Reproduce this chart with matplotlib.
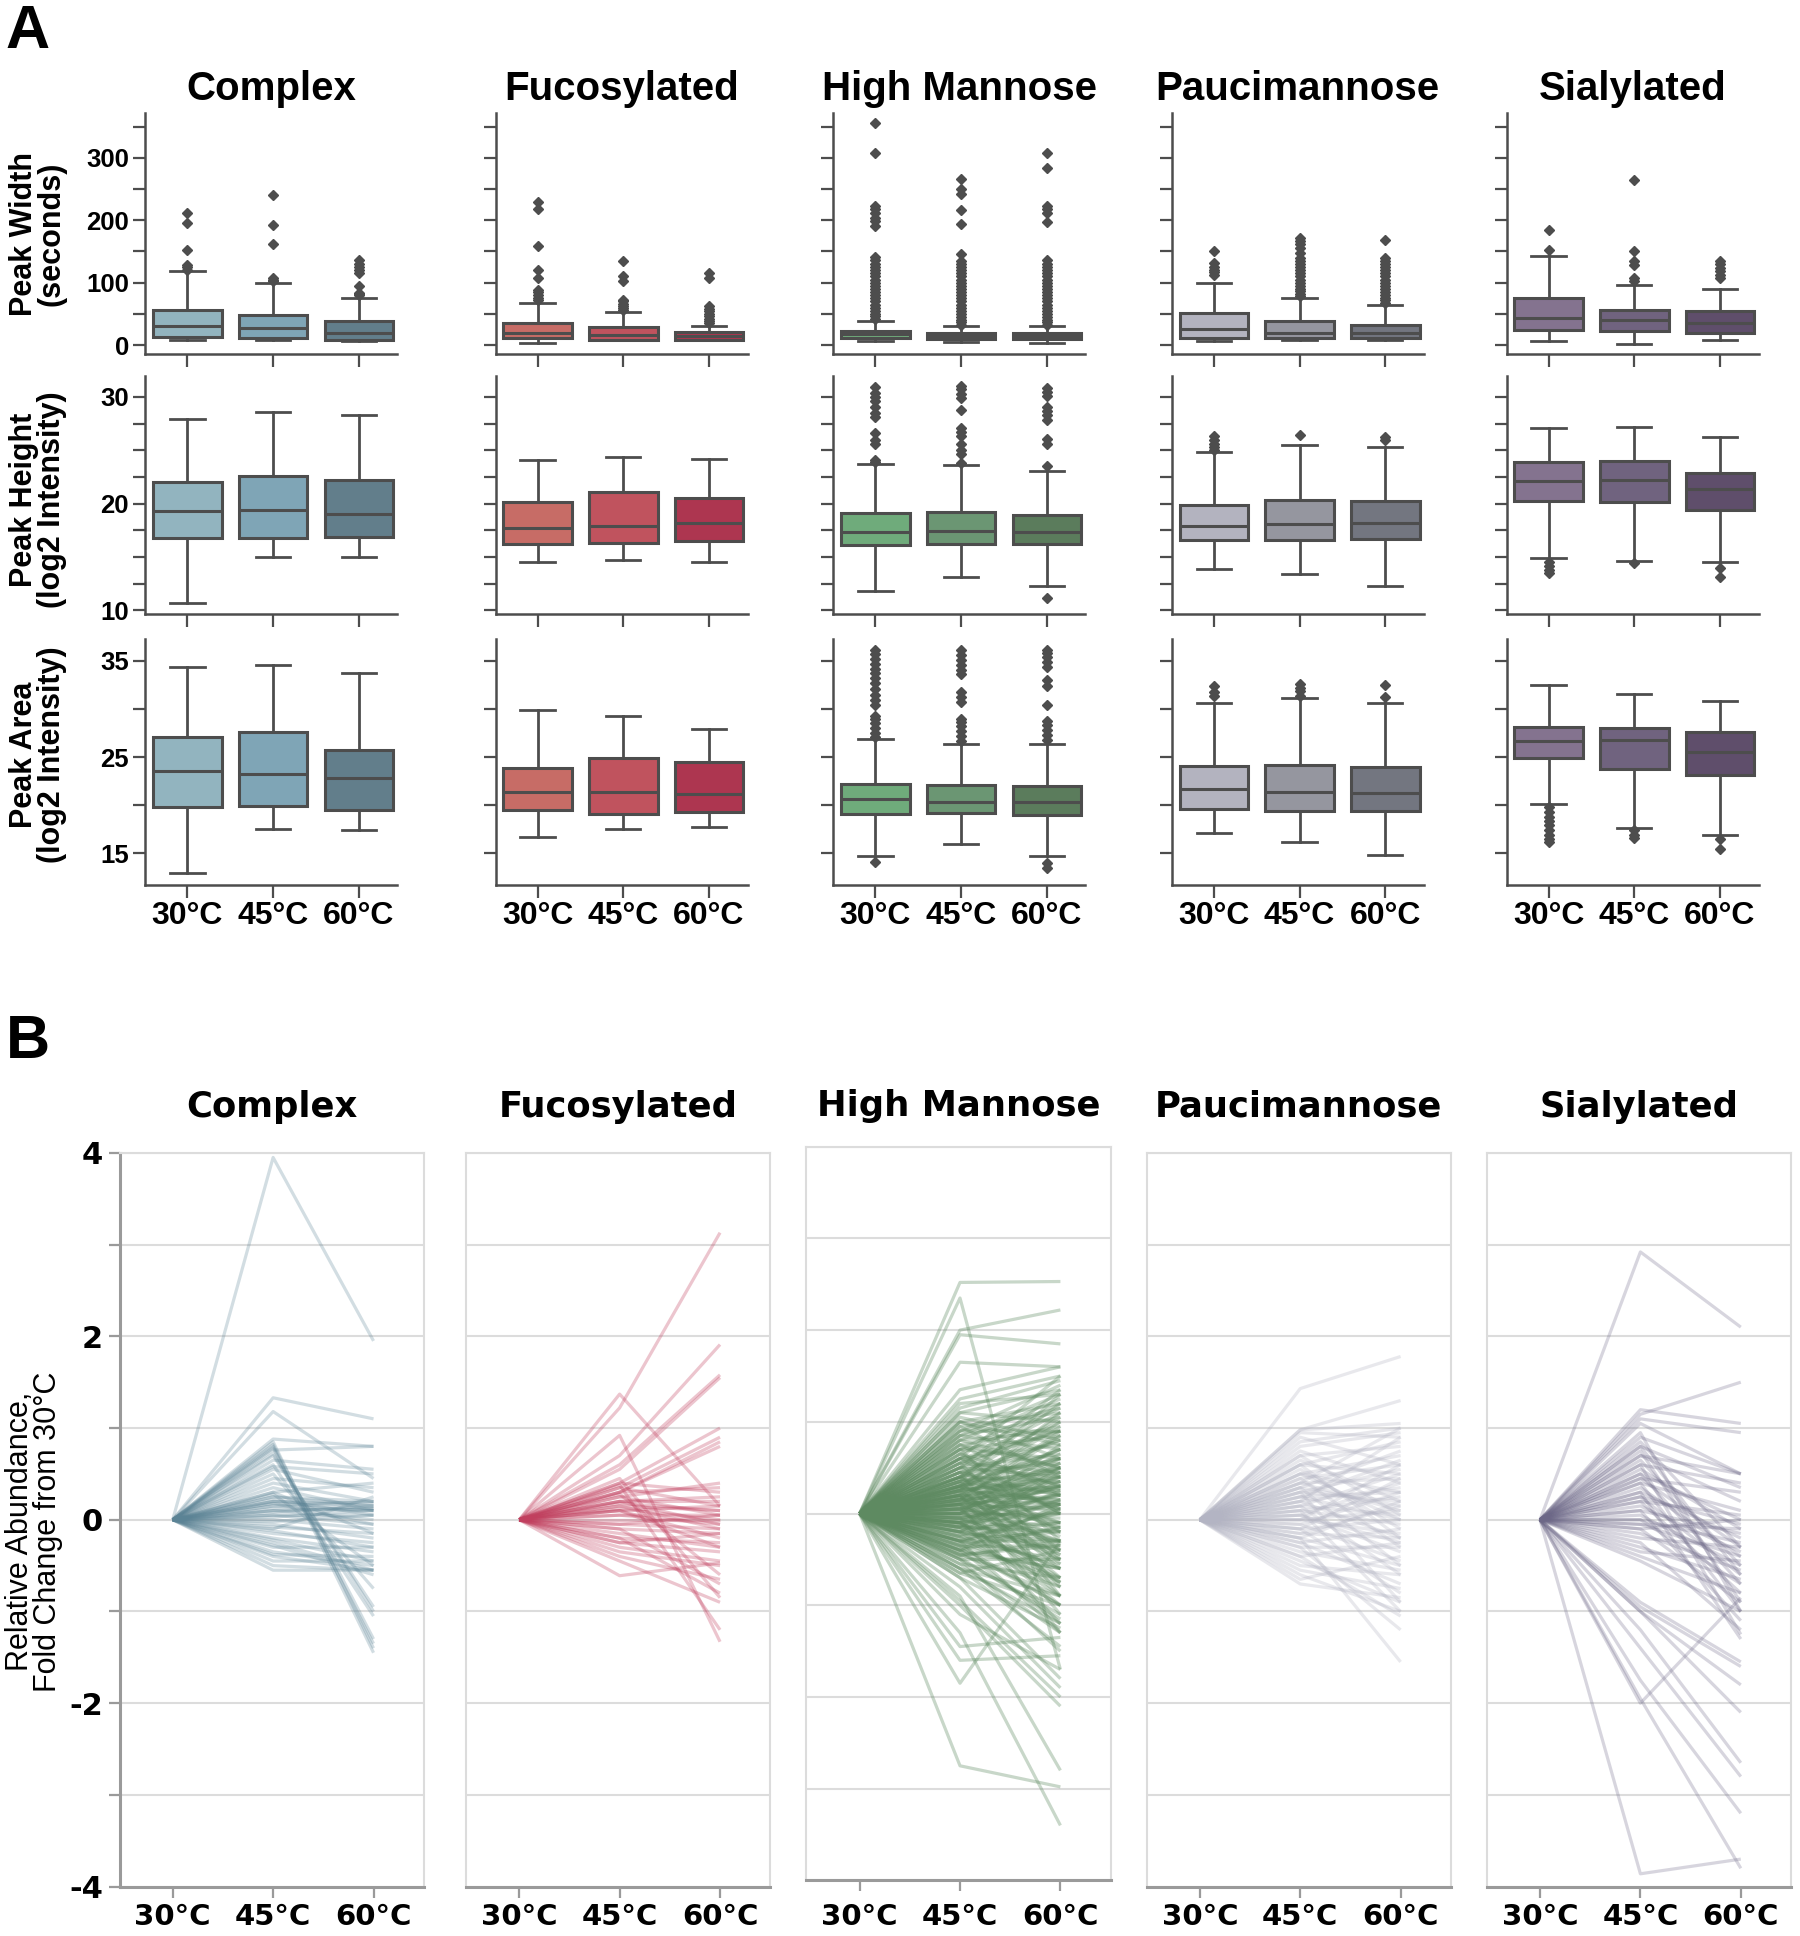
import matplotlib
matplotlib.use("Agg")
import matplotlib.pyplot as plt
from matplotlib import font_manager as fm

# ── FONTS ────────────────────────────────────────────────────────────────────
names = {f.name for f in fm.fontManager.ttflist}
ARIAL = "Liberation Sans" if "Liberation Sans" in names else "DejaVu Sans"
NARROW = "Liberation Sans Narrow" if "Liberation Sans Narrow" in names else ARIAL
WIDE = "DejaVu Sans"

# ── DATA ─────────────────────────────────────────────────────────────────────
groups = ["Complex", "Fucosylated", "High Mannose", "Paucimannose", "Sialylated"]
temps = ["30°C", "45°C", "60°C"]

box_colors = [["#92b4bf", "#7fa5b6", "#627e8b"],
              ["#c76c66", "#c0535e", "#ad3650"],
              ["#6fab7b", "#6b9673", "#5b7c5c"],
              ["#b3b3bf", "#95969f", "#737680"],
              ["#84738f", "#70637f", "#5f4e6b"]]
line_colors = ["#5b8395", "#c13f5e", "#5e8a61", "#b3b4c3", "#6c6787"]

# peak width (seconds): per group, per temperature
width_q1 = [[13, 11, 9], [12, 9, 9], [11, 10, 10], [12, 11, 11], [25, 23, 19]]
width_med = [[31, 28, 20], [19, 17, 15], [18, 15, 14], [26, 20, 19], [43, 40, 35]]
width_q3 = [[56, 48, 39], [36, 29, 21], [23, 20, 20], [52, 39, 33], [75, 56, 54]]
width_lo = [[8, 9, 7], [3, 8, 8], [6, 5, 3], [6, 8, 8], [6, 2, 9]]
width_hi = [[118, 99, 75], [68, 53, 31], [39, 31, 30], [100, 75, 64], [142, 97, 90]]
width_fliers = [
    [[120, 125, 128, 152, 195, 212], [103, 105, 107, 162, 193, 240],
     [80, 82, 84, 95, 116, 120, 125, 130, 136]],
    [[72, 76, 80, 85, 89, 108, 121, 159, 218, 229], [56, 60, 63, 66, 70, 73, 102, 111, 134],
     [35, 38, 42, 46, 50, 54, 58, 62, 108, 116]],
    [[42, 46, 50, 55, 60, 65, 70, 75, 80, 85, 90, 95, 100, 105, 110, 115, 120, 125, 130,
      136, 141, 191, 198, 204, 212, 218, 223, 307, 356],
     [33, 37, 41, 45, 50, 55, 60, 65, 70, 75, 80, 85, 90, 95, 100, 105, 110, 115, 120, 125,
      130, 134, 146, 194, 217, 242, 250, 266],
     [33, 37, 41, 45, 50, 55, 60, 65, 70, 75, 80, 85, 90, 95, 100, 105, 110, 115, 120, 125,
      130, 136, 197, 212, 218, 223, 284, 308]],
    [[113, 117, 121, 125, 131, 151],
     [78, 82, 86, 90, 95, 100, 105, 110, 115, 120, 125, 130, 135, 140, 148, 155, 162, 167, 172],
     [68, 72, 76, 80, 85, 90, 95, 100, 105, 110, 115, 120, 125, 130, 135, 140, 169]],
    [[153, 185], [102, 107, 129, 134, 151, 264], [107, 112, 118, 124, 130, 134]],
]

# peak height (log2 intensity)
height_q1 = [[16.75, 16.8, 16.9], [16.2, 16.3, 16.5], [16.1, 16.2, 16.2], [16.55, 16.55, 16.65], [20.2, 20.1, 19.4]]
height_med = [[19.3, 19.4, 19.05], [17.7, 17.9, 18.2], [17.3, 17.45, 17.3], [17.9, 18.05, 18.2], [22.1, 22.2, 21.4]]
height_q3 = [[22.0, 22.55, 22.2], [20.15, 21.05, 20.55], [19.15, 19.25, 18.95], [19.9, 20.3, 20.2], [23.9, 24.0, 22.85]]
height_lo = [[10.7, 15.0, 14.95], [14.5, 14.7, 14.5], [11.8, 13.1, 12.25], [13.9, 13.4, 12.3], [14.85, 14.65, 14.5]]
height_hi = [[27.9, 28.6, 28.3], [24.1, 24.4, 24.2], [23.7, 23.6, 23.05], [24.8, 25.45, 25.3], [27.05, 27.2, 26.2]]
height_fliers = [
    [[], [], []],
    [[], [], []],
    [[23.9, 24.1, 25.6, 26.0, 26.6, 28.1, 28.5, 29.1, 29.6, 30.0, 30.4, 30.9],
     [23.8, 24.6, 25.0, 25.6, 26.3, 26.7, 27.1, 28.8, 29.9, 30.3, 30.7, 31.0],
     [11.1, 23.5, 25.6, 26.1, 27.8, 28.3, 28.7, 29.1, 30.1, 30.5, 30.8]],
    [[25.0, 25.3, 25.6, 26.0, 26.3], [26.4], [26.0, 26.2]],
    [[13.5, 13.8, 14.1, 14.5], [14.4], [14.0, 13.1]],
]

# peak area (log2 intensity)
area_q1 = [[19.8, 19.9, 19.5], [19.5, 19.1, 19.3], [19.1, 19.2, 19.0], [19.55, 19.4, 19.4], [24.9, 23.75, 23.15]]
area_med = [[23.55, 23.2, 22.8], [21.4, 21.4, 21.15], [20.6, 20.35, 20.3], [21.7, 21.4, 21.25], [26.7, 26.75, 25.5]]
area_q3 = [[27.1, 27.6, 25.7], [23.9, 24.9, 24.5], [22.2, 22.1, 22.0], [24.1, 24.2, 24.0], [28.1, 28.0, 27.6]]
area_lo = [[12.9, 17.55, 17.4], [16.7, 17.5, 17.75], [14.7, 15.9, 14.7], [17.05, 16.2, 14.8], [20.1, 17.6, 16.9]]
area_hi = [[34.4, 34.6, 33.7], [29.9, 29.25, 27.9], [26.9, 26.4, 26.4], [30.6, 31.1, 30.6], [32.45, 31.6, 30.8]]
area_fliers = [
    [[], [], []],
    [[], [], []],
    [[14.1, 27.1, 27.5, 28.0, 28.5, 29.0, 29.3, 30.4, 30.9, 31.5, 32.1, 32.7, 33.2, 33.7,
      34.2, 34.7, 35.2, 35.7, 36.1],
     [26.7, 27.2, 27.7, 28.2, 28.6, 29.0, 30.7, 31.2, 31.8, 33.6, 34.1, 34.6, 35.1, 35.6, 36.1],
     [13.4, 14.0, 26.8, 27.3, 27.8, 28.3, 28.8, 30.4, 32.4, 33.0, 34.4, 34.9, 35.4, 35.8, 36.1]],
    [[31.4, 31.8, 32.4], [31.4, 31.9, 32.2, 32.6], [31.25, 32.55]],
    [[16.1, 16.5, 16.9, 17.4, 17.9, 18.3, 18.8, 19.3, 19.8], [16.6, 16.9, 17.35], [16.5, 15.4]],
]

row_labels = ["Peak Width\n(seconds)", "Peak Height\n(log2 Intensity)", "Peak Area\n(log2 Intensity)"]
row_ylims = [(-14, 371), (9.67, 32.0), (11.7, 37.3)]
row_ticks = [[0, 50, 100, 150, 200, 250, 300, 350],
             [10, 12.5, 15, 17.5, 20, 22.5, 25, 27.5, 30],
             [15, 20, 25, 30, 35]]
row_ticklabels = [["0", "", "100", "", "200", "", "300", ""],
                  ["10", "", "", "", "20", "", "", "", "30"],
                  ["15", "", "25", "", "35"]]

# fold change from 30°C, value at 45°C and at 60°C for each glycopeptide
complex_45 = [3.95, 1.33, 1.18, 0.88, 0.85, 0.82, 0.8, 0.78, 0.76, 0.72, 0.7, 0.65, 0.6, 0.58,
              0.55, 0.5, 0.45, 0.4, 0.35, 0.3, 0.28, 0.25, 0.22, 0.2, 0.18, 0.15, 0.12, 0.1,
              0.08, 0.05, 0.03, 0.0, -0.02, -0.05, -0.08, -0.1, -0.12, -0.15, -0.2, -0.22,
              -0.25, -0.28, -0.3, -0.35, -0.38, -0.4, -0.45, -0.5, -0.55, 0.2, 0.15, 0.25,
              0.1, 0.3, 0.18, 0.05]
complex_60 = [1.95, 1.1, 0.45, 0.8, -1.4, -1.3, -1.45, -1.35, 0.8, -1.0, -0.95, 0.55, -1.05, 0.5,
              0.3, -0.75, 0.35, 0.2, 0.1, 0.4, -0.5, 0.15, 0.05, 0.18, 0.12, 0.2, 0.1, 0.0,
              0.15, -0.05, 0.1, -0.1, 0.05, -0.2, -0.15, 0.25, -0.3, -0.25, -0.35, -0.45,
              -0.55, -0.6, -0.3, -0.5, -0.4, -0.55, -0.45, -0.55, -0.55, 0.15, 0.1, 0.2,
              0.12, -0.15, -0.05, 0.05]

fuco_45 = [1.37, 1.22, 0.92, 0.7, 0.6, 0.55, 0.4, 0.35, 0.3, 0.4, 0.3, 0.25, 0.45, 0.38, 0.2,
           0.15, 0.1, 0.05, 0.25, 0.2, 0.15, 0.1, 0.0, -0.05, -0.1, -0.15, -0.2, -0.25, -0.1,
           -0.3, -0.35, -0.4, -0.2, -0.45, -0.61, 0.3, 0.2, 0.35, 0.1, 0.05, -0.05, 0.28,
           0.12, -0.25, 0.18]
fuco_60 = [0.15, 3.13, -1.33, 1.91, 1.58, 1.55, 1.0, 0.9, 0.85, 0.3, 0.8, 0.4, -0.85, -1.2, 0.2,
           0.1, 0.15, 0.05, 0.05, -0.05, -0.1, -0.2, 0.0, -0.1, -0.15, -0.3, -0.25, -0.35, -0.7,
           -0.45, -0.5, -0.65, -0.8, -0.9, -0.47, 0.35, 0.25, 0.15, -0.3, -0.05, 0.05, -0.6,
           0.0, -0.15, 0.1]

hman_45 = [2.52, 2.35, 2.0, 1.95, 1.65, 1.35, 1.25, -2.75, -1.85, -1.6, -1.45, -1.3, -0.9, -1.0,
           -0.95, -0.8, -0.7, -1.1,
           1.2, 1.15, 1.1, 1.1, 1.05, 1.0, 1.0, 0.95, 0.95, 0.9, 0.9, 0.85, 0.85, 0.8, 0.8,
           0.75, 0.75, 0.7, 0.7, 0.65, 0.65, 0.6, 0.6, 0.55, 0.55, 0.5, 0.5, 0.5, 0.45, 0.45,
           0.4, 0.4, 0.4, 0.35, 0.35, 0.3, 0.3, 0.3, 0.25, 0.25, 0.25, 0.2, 0.2, 0.2, 0.15,
           0.15, 0.15, 0.1, 0.1, 0.1, 0.05, 0.05, 0.05, 0.0, 0.0, 0.0, -0.05, -0.05, -0.05,
           -0.1, -0.1, -0.1, -0.15, -0.15, -0.2, -0.2, -0.2, -0.25, -0.25, -0.3, -0.3, -0.3,
           -0.35, -0.35, -0.4, -0.4, -0.4, -0.45, -0.45, -0.5, -0.5, -0.55, -0.55, -0.6, -0.6,
           -0.65, -0.65, -0.7, 0.35, 0.6, 0.45, 0.2, 0.1, -0.1, 0.3, 0.55, 0.7, 0.15, 0.0,
           -0.2, 0.25, 0.4, 0.05, -0.15, 0.12, 0.22, -0.08, 0.32, 0.18, 0.08, -0.02, 0.28,
           -0.12, 0.38,
           0.6, 0.55, 0.5, 0.45, 0.4, 0.38, 0.35, 0.33, 0.3, 0.28, 0.26, 0.24, 0.22, 0.2, 0.18,
           0.16, 0.14, 0.12, 0.1, 0.08, 0.06, 0.04, 0.02, 0.0, -0.02, -0.04, -0.06, -0.08,
           -0.1, -0.12, -0.14, -0.16, -0.18, -0.2, -0.22, -0.24, -0.26, -0.28, -0.3, -0.32,
           -0.34, -0.36, -0.38, -0.4, -0.42, -0.44, -0.46, -0.48, 0.7, 0.75, 0.8, 0.65, 0.9,
           1.0, 0.85, 0.5, 0.3, 0.15, 0.05, -0.05, 0.2, 0.45, 0.6, 0.35, 0.1, -0.15, 0.25,
           0.4, 0.18, 0.02, -0.1, 0.28, 0.12, -0.3, -0.5, -0.6]
hman_60 = [2.53, -1.7, 2.22, 1.85, 1.6, 1.6, 1.5, -2.98, -0.3, -1.55, -1.35, -3.4, -2.8, -2.1,
           -2.0, -1.9, -1.8, -1.7,
           1.3, 1.45, 1.0, 1.35, 0.8, 1.2, 0.6, 1.1, 0.4, 1.4, 0.9, 0.7, 1.05, 0.5, 1.25,
           0.95, 0.2, 0.85, 0.6, 1.15, 0.3, 0.75, 0.0, 0.9, 0.45, 0.65, -0.2, 1.0, 0.55, 0.2,
           0.8, -0.4, 0.35, 0.6, 0.1, 0.5, -0.1, 0.95, 0.4, 0.15, -0.6, 0.7, 0.3, 0.0, 0.55,
           -0.25, 0.25, 0.45, 0.05, -0.5, 0.35, -0.1, 0.6, 0.2, -0.3, 0.5, 0.1, -0.45, 0.3,
           0.0, -0.7, 0.4, -0.2, 0.15, -0.4, 0.25, -0.9, -0.1, -0.55, 0.05, -0.75, -0.3,
           -1.0, -0.15, -0.6, -1.2, 0.1, -0.8, -0.35, -1.1, -0.5, -1.3, -0.7, -0.9, -1.45,
           -1.0, -0.4, -1.25, 1.3, 1.5, -0.9, -1.1, -1.3, -1.0, -0.8, -0.5, -0.3, 0.85, 0.75,
           0.45, 1.1, 1.2, -0.75, -0.6, 0.12, 0.5, 0.22, 0.28, -0.35, 0.28, -0.15, 0.7,
           -0.3, 0.05,
           0.9, 1.1, 0.4, 0.8, 0.6, 0.2, 0.45, -0.2, 0.7, 0.1, 0.35, -0.4, 0.6, 0.15, 0.4,
           -0.1, 0.3, 0.5, 0.2, -0.3, 0.1, 0.4, -0.05, 0.3, 0.0, -0.5, 0.2, -0.2, 0.1, -0.4,
           0.35, -0.1, -0.6, 0.0, -0.3, 0.15, -0.8, -0.2, -0.5, 0.05, -0.7, -0.35, -1.0,
           -0.15, -0.6, -0.9, -0.3, -1.15, 1.2, 0.5, 0.9, 0.0, 1.15, 0.75, 1.3, 1.35, 1.0,
           0.9, -0.9, -1.2, -0.7, 0.05, 0.3, -0.55, 0.65, 0.5, 0.85, 1.05, -0.15, 0.55,
           -0.75, 0.25, -0.45, -1.3, -1.5, -1.2]

pauci_45 = [1.43, 0.98, 0.98, 0.95, 0.9, 0.85, 0.8, 0.75, 0.7, 0.65, 0.6, 0.6, 0.55, 0.5, 0.5,
            0.45, 0.45, 0.4, 0.4, 0.35, 0.35, 0.3, 0.3, 0.25, 0.25, 0.2, 0.2, 0.15, 0.15, 0.1,
            0.1, 0.05, 0.05, 0.0, 0.0, -0.05, -0.05, -0.1, -0.1, -0.15, -0.15, -0.2, -0.2,
            -0.25, -0.25, -0.3, -0.3, -0.35, -0.4, -0.4, -0.45, -0.5, -0.55, -0.6, -0.65, -0.7,
            0.2, 0.4, 0.1, 0.3, 0.0, -0.1, 0.15, 0.25, 0.35, -0.2, 0.05, 0.5, 0.6, 0.7]
pauci_60 = [1.78, 1.3, 1.05, 0.9, 0.6, 1.0, 0.95, 0.4, 0.8, 0.2, 0.85, 0.5, -0.1, 0.7, 0.3,
            0.6, -0.3, 0.45, 0.1, 0.75, -0.5, 0.55, 0.2, 0.0, 0.65, 0.35, -0.2, 0.5, -0.6, 0.25,
            -0.05, 0.4, -0.35, 0.1, -0.15, 0.3, -0.45, 0.0, -0.8, -0.2, 0.15, -1.55, -0.5,
            -0.1, -0.7, -1.2, -0.3, -0.55, -1.05, -0.25, -0.9, -0.6, -0.75, -1.0, -0.4, -0.85,
            0.9, 1.0, -1.0, -0.9, 0.6, 0.45, 0.05, 0.3, 0.15, 0.2, -0.25, 0.0, -0.2, 0.05]

sial_45 = [2.92, -3.86, -2.0, -1.95, -1.75, -1.4, -1.2, -1.0, -1.0, -0.9, -0.95, 1.2, 1.15, 1.1,
           1.05, 0.9, 0.85, 0.8, 0.75, 0.7, 0.65, 0.6, 0.6, 0.55, 0.5, 0.5, 0.45, 0.4, 0.4,
           0.35, 0.3, 0.3, 0.25, 0.2, 0.2, 0.15, 0.1, 0.1, 0.05, 0.0, 0.0, -0.05, -0.1, -0.1,
           -0.15, -0.2, -0.25, -0.3, -0.35, -0.4, -0.45, 0.7, 0.45, 0.25, 0.8, 0.95, -0.05]
sial_60 = [2.1, -3.7, -0.85, -3.8, -3.2, -2.8, -2.65, -2.1, -1.8, -1.55, -1.6, 1.05, 1.5, 0.95,
           0.5, 0.5, -0.3, 0.35, -0.9, 0.2, -0.5, 0.4, -1.25, -0.1, 0.0, -0.7, -0.3, -1.0, 0.1,
           -0.4, -0.2, -1.3, -0.6, 0.05, -0.8, -0.35, -0.15, -1.1, -0.5, -0.25, -0.7, -0.4,
           -0.9, 0.0, -0.55, -0.3, -1.2, -0.65, -0.45, -0.8, -1.0, 0.5, 0.3, -0.05, -0.6,
           -1.0, -0.1]

fold_45 = [complex_45, fuco_45, hman_45, pauci_45, sial_45]
fold_60 = [complex_60, fuco_60, hman_60, pauci_60, sial_60]
line_alpha = [0.27, 0.3, 0.34, 0.3, 0.27]

EDGE = "#4d4d4d"

# ── FIGURE ───────────────────────────────────────────────────────────────────
fig = plt.figure(figsize=(18, 19.36), dpi=100)

# ── PANEL A: boxplots ────────────────────────────────────────────────────────
a_left = [0.0808, 0.2753, 0.463, 0.651, 0.837]
a_w = 0.140
a_bottom = [0.8172, 0.683, 0.543]
a_h = [0.1242, 0.123, 0.127]

metrics = [(width_q1, width_med, width_q3, width_lo, width_hi, width_fliers),
           (height_q1, height_med, height_q3, height_lo, height_hi, height_fliers),
           (area_q1, area_med, area_q3, area_lo, area_hi, area_fliers)]

for r, (q1, med, q3, lo, hi, fl) in enumerate(metrics):
    for c in range(5):
        ax = fig.add_axes([a_left[c], a_bottom[r], a_w, a_h[r]])
        stats = [dict(q1=q1[c][t], med=med[c][t], q3=q3[c][t],
                      whislo=lo[c][t], whishi=hi[c][t], fliers=fl[c][t])
                 for t in range(3)]
        bp = ax.bxp(stats, positions=[0, 1, 2], widths=0.8, capwidths=0.4,
                    patch_artist=True, showfliers=True,
                    boxprops=dict(edgecolor=EDGE, linewidth=2.2),
                    medianprops=dict(color=EDGE, linewidth=2.2),
                    whiskerprops=dict(color=EDGE, linewidth=2.0),
                    capprops=dict(color=EDGE, linewidth=2.0),
                    flierprops=dict(marker="D", markerfacecolor=EDGE,
                                    markeredgecolor=EDGE, markersize=5.5))
        for patch, col in zip(bp["boxes"], box_colors[c]):
            patch.set_facecolor(col)

        ax.set_xlim(-0.49, 2.45)
        ax.set_ylim(*row_ylims[r])
        ax.set_yticks(row_ticks[r])
        if c == 0:
            ax.set_yticklabels(row_ticklabels[r], family=NARROW,
                               fontweight="bold", fontsize=20 if NARROW != ARIAL else 18.5)
        else:
            ax.set_yticklabels([])
        ax.set_xticks([0, 1, 2])
        if r == 2:
            ax.set_xticklabels(temps, family=ARIAL, fontweight="bold", fontsize=23)
        else:
            ax.set_xticklabels([])
        ax.tick_params(direction="out", length=9, width=1.6, color=EDGE, pad=3)
        ax.spines[["top", "right"]].set_visible(False)
        for s in ["left", "bottom"]:
            ax.spines[s].set_color(EDGE)
            ax.spines[s].set_linewidth(1.8)
        if r == 0:
            ax.set_title(groups[c], family=ARIAL, fontweight="bold",
                         fontsize=29, pad=10)

row_label_y = [0.879, 0.742, 0.610]
for r in range(3):
    fig.text(0.021, row_label_y[r], row_labels[r], rotation=90, ha="center", va="center",
             family=ARIAL, fontweight="bold", fontsize=22, linespacing=0.92,
             multialignment="center")

fig.text(0.003, 0.998, "A", family=ARIAL, fontweight="bold", fontsize=44, va="top")

# ── PANEL B: fold-change lines ───────────────────────────────────────────────
b_left = [0.0664, 0.2589, 0.448, 0.637, 0.826]
b_bottom = [0.0255, 0.0255, 0.0287, 0.0255, 0.0255]
b_w, b_h = 0.169, 0.379
GRID = "#dcdcdc"
AXIS = "#9a9a9a"

for c in range(5):
    ax = fig.add_axes([b_left[c], b_bottom[c], b_w, b_h])
    for a45, a60 in zip(fold_45[c], fold_60[c]):
        ax.plot([0, 1, 2], [0, a45, a60], color=line_colors[c],
                alpha=line_alpha[c], lw=2.3, solid_capstyle="butt")
    ax.set_xlim(-0.53, 2.5)
    ax.set_ylim(-4, 4)
    ax.set_yticks(range(-4, 5))
    ax.yaxis.grid(True, color=GRID, lw=1.5)
    ax.set_axisbelow(True)
    for s in ["top", "right", "left"]:
        ax.spines[s].set_color(GRID)
        ax.spines[s].set_linewidth(1.5)
    ax.spines["bottom"].set_color(AXIS)
    ax.spines["bottom"].set_linewidth(2.2)
    ax.set_xticks([0, 1, 2])
    ax.set_xticklabels(temps, family=WIDE, fontweight="bold", fontsize=21)
    ax.tick_params(axis="x", direction="out", length=8, width=1.6, color=AXIS,
                   pad=8.5 if c == 2 else 4)
    if c == 0:
        ax.spines["left"].set_color(AXIS)
        ax.spines["left"].set_linewidth(2.2)
        ax.set_yticklabels(["-4", "", "-2", "", "0", "", "2", "", "4"],
                           family=WIDE, fontweight="bold", fontsize=22)
        ax.tick_params(axis="y", direction="out", length=8, width=1.6, color=AXIS, pad=4)
    else:
        ax.set_yticklabels([])
        ax.tick_params(axis="y", length=0)
    ax.set_title(groups[c], family=WIDE, fontweight="bold", fontsize=25.5,
                 pad=22 if c == 2 else 26)

fig.text(0.019, 0.209, "Relative Abundance,\nFold Change from 30°C", rotation=90,
         ha="center", va="center", family=NARROW, fontsize=24 if NARROW != ARIAL else 22,
         linespacing=0.92, multialignment="center")
fig.text(0.003, 0.476, "B", family=ARIAL, fontweight="bold", fontsize=44, va="top")

plt.savefig("out.png", dpi=100)
